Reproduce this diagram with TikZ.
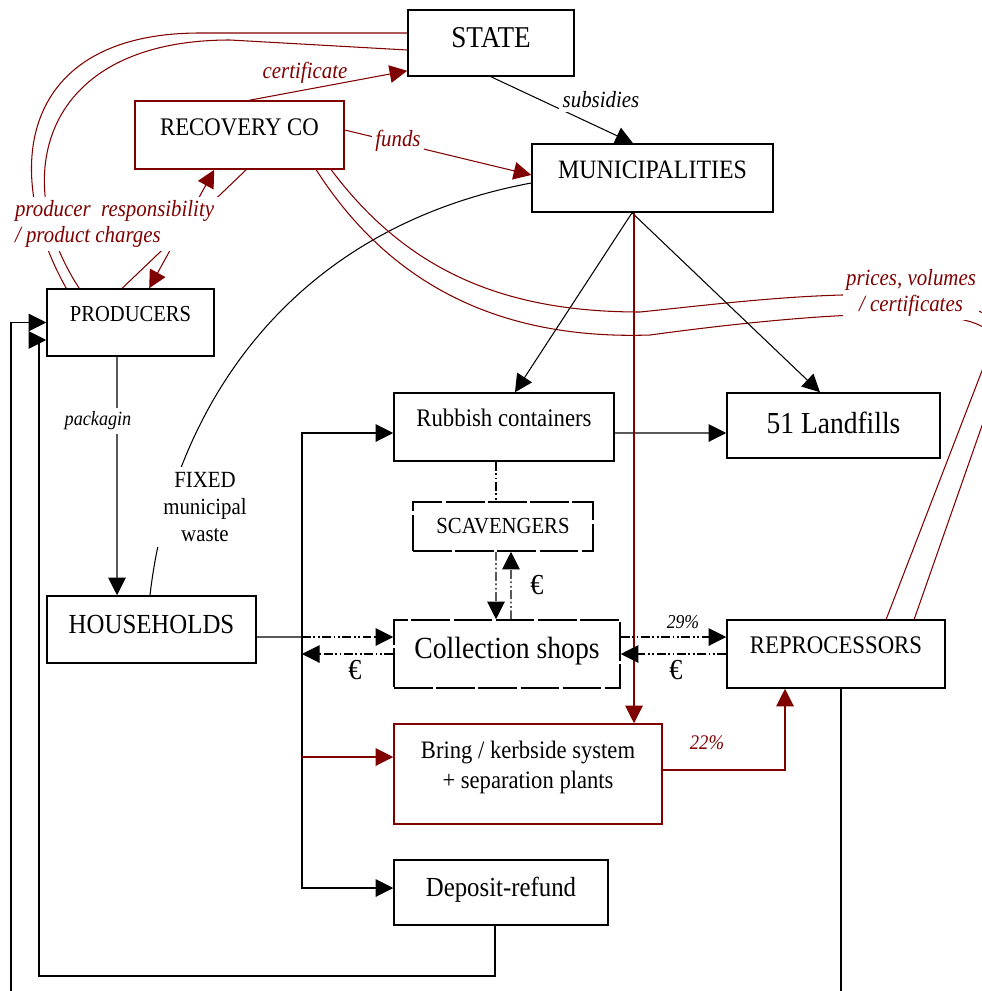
\documentclass[tikz,border=0pt]{standalone}
\usepackage{fontspec}
\setmainfont{Liberation Serif}[FakeStretch=0.9]
\usetikzlibrary{positioning,arrows.meta}
\definecolor{dred}{RGB}{128,0,0}
\newcommand{\sz}[2]{\fontsize{#1}{#2}\selectfont}
\tikzset{
  box/.style={draw, line width=0.9pt, align=center, inner sep=1pt},
  redbox/.style={box, draw=dred},
  dashbox/.style={box, dash pattern=on 22pt off 2pt},
  dots/.style={dash pattern=on 5pt off 1.5pt on 1pt off 1.5pt on 1pt off 1.5pt},
  lbl/.style={font=\itshape\sz{13.2}{14.5}, fill=white, inner sep=2pt}
}

\begin{document}
\begin{tikzpicture}[x=0.02cm, y=-0.02cm, line width=0.6pt,
    >={Triangle[length=10pt,width=10pt]}]
    \useasboundingbox (0,0) rectangle (982,991);
    \clip (0,0) rectangle (982,991);

    % Nodes
    \node[box, minimum width=3.32cm, minimum height=1.32cm, text depth=0.24cm, font=\sz{17.2}{19}] (state) at (491,43) {STATE};
    \node[redbox, minimum width=4.18cm, minimum height=1.36cm, text depth=0.32cm, font=\sz{14.4}{16}] (recov) at (239.5,135) {RECOVERY CO};
    \node[box, minimum width=4.82cm, minimum height=1.36cm, text depth=0.32cm, font=\sz{15.1}{16}] (munic) at (652.5,178) {MUNICIPALITIES};
    \node[box, minimum width=3.34cm, minimum height=1.34cm, text depth=0.36cm, font=\sz{13}{14}] (prod) at (130.5,322.5) {PRODUCERS};
    \node[box, minimum width=4.4cm, minimum height=1.36cm, text depth=0.36cm, font=\sz{14.4}{16}] (rubbish) at (504,427) {Rubbish containers};
    \node[box, minimum width=4.26cm, minimum height=1.3cm, text depth=0.12cm, font=\sz{17.4}{19}] (landfill) at (833.5,425.5) {51 Landfills};
    \node[dashbox, minimum width=3.6cm, minimum height=0.98cm, font=\sz{13.1}{14}] (scav) at (503,526.5) {SCAVENGERS};
    \node[box, minimum width=4.18cm, minimum height=1.34cm, text depth=0.2cm, font=\sz{15.7}{17}] (house) at (151.5,629.5) {HOUSEHOLDS};
    \node[dashbox, minimum width=4.52cm, minimum height=1.36cm, text depth=0.24cm, font=\sz{17.5}{19}] (shops) at (507,654) {Collection shops};
    \node[box, minimum width=4.36cm, minimum height=1.36cm, text depth=0.36cm, font=\sz{14.4}{16}] (reproc) at (836,654) {REPROCESSORS};
    \node[redbox, minimum width=5.36cm, minimum height=2cm, text depth=0.36cm, font=\sz{14.3}{17}] (bring) at (528,774) {Bring / kerbside system\\+ separation plants};
    \node[box, minimum width=4.28cm, minimum height=1.3cm, text depth=0.22cm, font=\sz{15.7}{17}] (deposit) at (501,892.5) {Deposit-refund};

    \coordinate (bus) at (302,637);
    \coordinate (bringin) at ([yshift=0.34cm]bring.west);
    \coordinate (mred) at ([xshift=-0.37cm]munic.south);

    % Arrows
    \draw[->] (state.south) -- ([xshift=-0.39cm]munic.north);
    \draw[dred, ->] ([xshift=0.2cm]recov.north) -- ([yshift=0.12cm]state.south west);
    \draw[dred, ->] ([yshift=0.1cm]recov.east) -- ([yshift=0.06cm]munic.west);
    \draw ([xshift=-0.03cm]house.north) .. controls (170,420) and (280,230) .. ([yshift=-0.1cm]munic.west);

    \draw[dred] ([yshift=0.2cm]state.west) -- (200,33) .. controls (20,33) and (0,170) .. ([xshift=0.4cm]prod.north west);
    \draw[dred] ([yshift=-0.14cm]state.west) -- (230,40) .. controls (40,40) and (8,180) .. ([xshift=0.66cm]prod.north west);
    \draw[dred] ([xshift=2.24cm]recov.south west) -- ([xshift=1.52cm]prod.north west);
    \draw[dred, <->] ([xshift=1.6cm]recov.south west) -- ([xshift=2.06cm]prod.north west);

    \draw[dred] ([xshift=3.94cm]recov.south west) .. controls (410,275) and (510,312) .. (640,312)
        .. controls (760,300) and (1030,262) .. (1005,360) -- ([xshift=3.76cm]reproc.north west);
    \draw[dred] ([xshift=3.64cm]recov.south west) .. controls (390,285) and (500,340) .. (650,335)
        .. controls (760,320) and (1020,290) .. (990,350) -- ([xshift=3.2cm]reproc.north west);

    \draw[->] ([xshift=-0.27cm]prod.south) -- ([xshift=-0.69cm]house.north);

    \draw ([yshift=-0.15cm]house.east) -- (bus);
    \draw[dots, ->] (bus) -- (bus -| shops.west);
    \draw[dots, ->] (shops.west) -- (shops.west -| bus);
    \draw[->] (bus) |- ([yshift=-0.12cm]rubbish.west);
    \draw[->] (bus) |- ([yshift=0.09cm]deposit.west);
    \draw[dred, ->] (bringin -| bus) -- (bringin);

    \draw[->] ([yshift=-0.12cm]rubbish.east) -- ([yshift=-0.15cm]landfill.west);
    \draw[->] ([xshift=-0.41cm]munic.south) -- ([xshift=0.22cm]rubbish.north);
    \draw[->] ([xshift=-0.41cm]munic.south) -- ([xshift=-0.27cm]landfill.north);
    \draw[dred, ->] (mred) -- (mred |- bring.north);

    \draw[dots] ([xshift=-0.16cm]rubbish.south) -- ([xshift=-0.14cm]scav.north);
    \draw[dots, ->] ([xshift=-0.14cm]scav.south) -- ([xshift=-0.22cm]shops.north);
    \draw[dots, ->] ([xshift=0.08cm]shops.north) -- ([xshift=0.16cm]scav.south);

    \draw[dots, ->] ([yshift=0.34cm]shops.east) -- ([yshift=0.34cm]reproc.west);
    \draw[dots, ->] (reproc.west) -- (shops.east);
    \draw[dred, ->] ([yshift=0.08cm]bring.east) -| ([xshift=-1.02cm]reproc.south);

    \draw[->] ([xshift=-0.12cm]deposit.south) |- (39,976) |- ([yshift=-0.35cm]prod.west);
    \draw[->] ([xshift=0.1cm]reproc.south) |- (11,1010) |- (prod.west);

    % Labels
    \node[lbl, text=dred, fill=none] (certlbl) at (305,73) {certificate};
    \node[lbl] (subslbl) at (601,100) {subsidies};
    \node[lbl, text=dred] (fundslbl) at (398,141) {funds};
    \node[lbl, text=dred, anchor=west, align=left] (resplbl) at (11,224) {producer\ \ responsibility\\/ product charges};
    \node[lbl, text=dred, align=center] (pricelbl) at (911,293) {prices, volumes\\/ certificates};
    \node[lbl, font=\itshape\sz{11.5}{12}] (packlbl) at (98,421) {packagin};
    \node[fill=white, align=center, font=\sz{13.2}{15.3}] (wastelbl) at (205,507) {FIXED\\municipal\\waste};
    \node[font=\itshape\sz{11.2}{12}] (pcta) at (683,622) {29\%};
    \node[font=\itshape\sz{11.8}{12}, text=dred] (pctb) at (707,743) {22\%};
    \node[font=\sz{16.5}{18}] (euroa) at (537,585) {€};
    \node[font=\sz{16.5}{18}] (eurob) at (355,670) {€};
    \node[font=\sz{16.5}{18}] (euroc) at (676,670) {€};
\end{tikzpicture}
\end{document}
